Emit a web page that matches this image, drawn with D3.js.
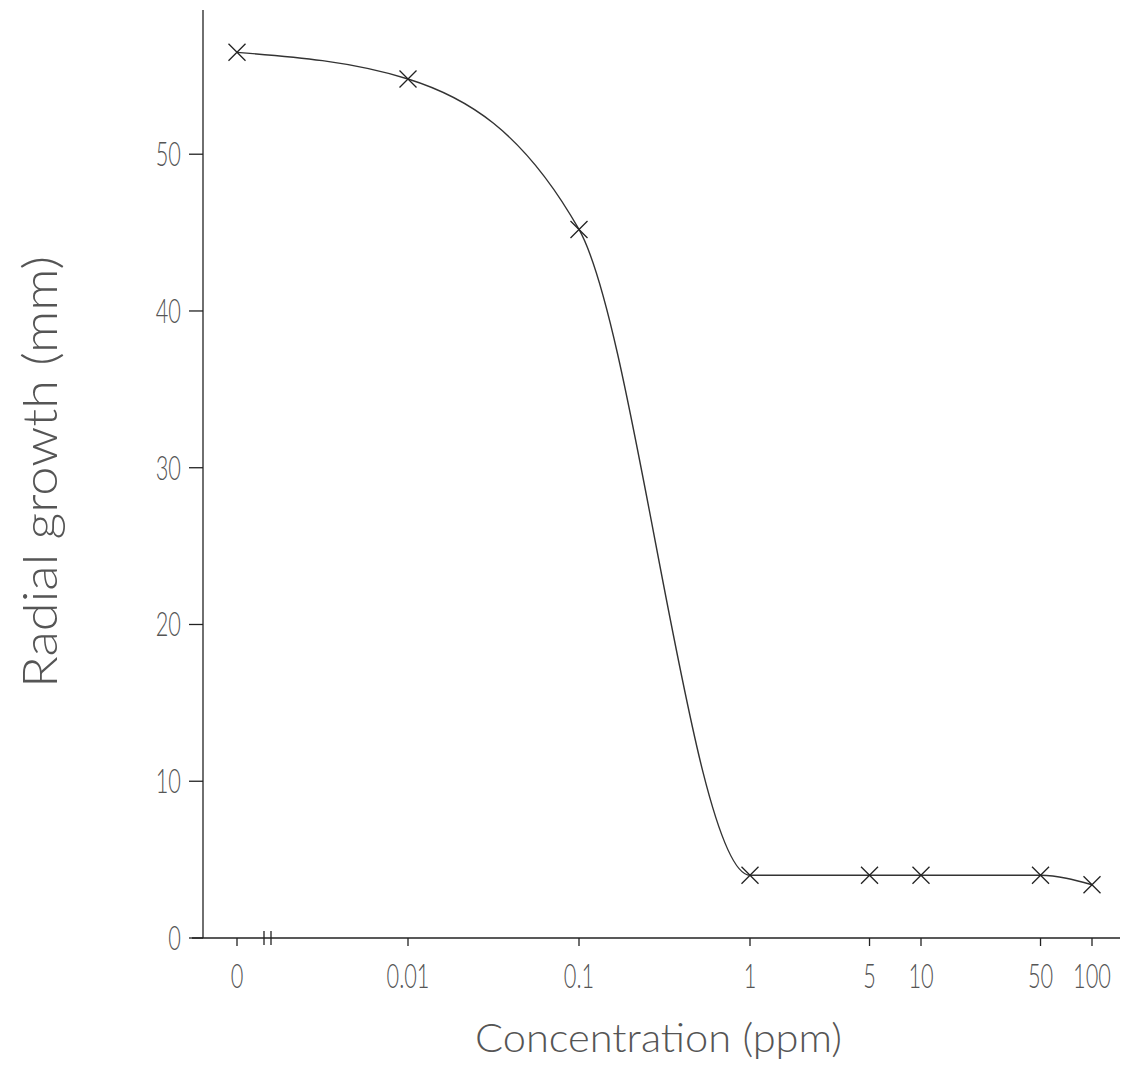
<!DOCTYPE html>
<html lang="en">
<head>
  <meta charset="UTF-8">
  <title>Radial growth vs concentration</title>
  <style>
    body { margin: 0; background: #fff; }
    text { font-family: Lato, 'Open Sans', sans-serif; font-weight: 300; fill: #555; }
    .axis-line { stroke: #222; stroke-width: 1.3px; fill: none; }
    .curve { stroke: #333; stroke-width: 1.4px; fill: none; }
    .marker { stroke: #222; stroke-width: 1.3px; }
  </style>
</head>
<body>
  <svg id="chart" width="1122" height="1075"></svg>

  <script src="https://cdn.jsdelivr.net/npm/d3@7"></script>
  <script>
    // Concentrations (ppm); "0" is drawn at 0.001 on the log axis
    const concLabels = ['0', '0.01', '0.1', '1', '5', '10', '50', '100'];
    const concValues = [0.001, 0.01, 0.1, 1, 5, 10, 50, 100];
    // Radial growth (mm)
    const growth = [56.5, 54.8, 45.2, 4.0, 4.0, 4.0, 4.0, 3.4];
    const yTicks = [0, 10, 20, 30, 40, 50];

    let svg = d3.select('#chart');

    // log scale for concentration, linear for growth
    let x = d3.scaleLog().domain([0.001, 100]).range([237, 1092]);
    let y = d3.scaleLinear().domain([0, 59.2]).range([938, 10]);

    let x0 = 203, xEnd = 1120, y0 = y(0);

    // axis lines
    svg.append('line').attr('class', 'axis-line')
      .attr('x1', x0).attr('x2', x0).attr('y1', y.range()[1]).attr('y2', y0);
    svg.append('line').attr('class', 'axis-line')
      .attr('x1', 192).attr('x2', xEnd).attr('y1', y0).attr('y2', y0);

    // axis break mark near zero
    [264, 271].forEach(bx => {
      svg.append('line').attr('class', 'axis-line')
        .attr('x1', bx).attr('x2', bx).attr('y1', y0 - 7).attr('y2', y0 + 7);
    });

    // condensed label helper
    function label(px, py, txt, size, anchor) {
      svg.append('g')
        .attr('transform', `translate(${px}, ${py})`)
        .append('text')
        .attr('transform', 'scale(0.66, 1)')
        .attr('text-anchor', anchor)
        .style('font-size', size + 'px')
        .text(txt);
    }

    // y ticks
    yTicks.forEach(t => {
      svg.append('line').attr('class', 'axis-line')
        .attr('x1', x0 - 14).attr('x2', x0).attr('y1', y(t)).attr('y2', y(t));
      label(181, y(t) + 12, t, 33, 'end');
    });

    // x ticks
    concValues.forEach((v, i) => {
      svg.append('line').attr('class', 'axis-line')
        .attr('x1', x(v)).attr('x2', x(v)).attr('y1', y0).attr('y2', y0 + 8);
      label(x(v), 988, concLabels[i], 33, 'middle');
    });

    // axis titles
    svg.append('text')
      .attr('x', 475).attr('y', 1052)
      .attr('textLength', 367).attr('lengthAdjust', 'spacingAndGlyphs')
      .style('font-size', '40px')
      .text('Concentration (ppm)');

    svg.append('text')
      .attr('transform', 'translate(57, 472) rotate(-90)')
      .attr('text-anchor', 'middle')
      .attr('textLength', 432).attr('lengthAdjust', 'spacingAndGlyphs')
      .style('font-size', '48px')
      .text('Radial growth (mm)');

    let pts = concValues.map((v, i) => [x(v), y(growth[i])]);

    // smooth curve through the points
    svg.append('path')
      .attr('class', 'curve')
      .attr('d', d3.line().curve(d3.curveMonotoneX)(pts));

    // X markers
    let s = 8.5;
    pts.forEach(p => {
      svg.append('path')
        .attr('class', 'marker')
        .attr('d', `M${p[0] - s},${p[1] - s}L${p[0] + s},${p[1] + s}M${p[0] - s},${p[1] + s}L${p[0] + s},${p[1] - s}`);
    });
  </script>
</body>
</html>
